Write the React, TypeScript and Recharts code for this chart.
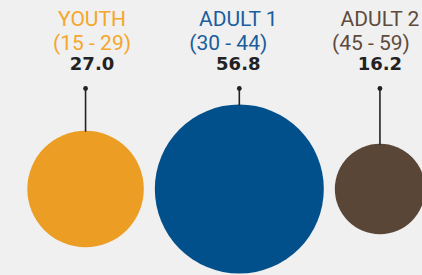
import React from 'react';
import { ScatterChart, Scatter, XAxis, YAxis, ZAxis } from 'recharts';

const categories = ['YOUTH', 'ADULT 1', 'ADULT 2'];
const ageRanges = ['(15 - 29)', '(30 - 44)', '(45 - 59)'];
const values = [27.0, 56.8, 16.2];

const circleColors = ['#EB9E23', '#02508B', '#5A4637'];
const textColors = ['#F5A62B', '#1B5E9E', '#5E4B3C'];
const labelShift = [6.5, -1, 0];
const rangeShift = [6.5, -11, -9];

const W = 422;
const H = 275;
const MAX_R = 84.5;
const MAX_AREA = Math.PI * MAX_R * MAX_R;
const K = MAX_R / Math.sqrt(Math.max(...values));
const START = 27.3;
const GAP = 11;

// pack bubbles side by side (positions derived from values)
const data = (() => {
  let edge = START;
  return values.map((v, i) => {
    const r = K * Math.sqrt(v);
    const x = edge + r;
    edge = x + r + GAP;
    return { name: categories[i], range: ageRanges[i], value: v, x, y: 0, idx: i };
  });
})();

const PIN_Y = 88.5;

const Bubble = (props: any) => {
  const { cx, cy, width, payload } = props;
  const i = payload.idx;
  const r = width / 2;
  const tx = cx + labelShift[i];
  return (
    <g>
      <circle cx={cx} cy={cy} r={r} fill={circleColors[i]} />
      <line x1={cx} y1={PIN_Y} x2={cx} y2={cy - r + 1} stroke="#222" strokeWidth={1.6} />
      <circle cx={cx} cy={PIN_Y} r={2.4} fill="#222" />
      <text x={tx} y={26} textAnchor="middle" fontFamily="Roboto" fontSize={21} fill={textColors[i]}>
        {payload.name}
      </text>
      <text x={cx + rangeShift[i]} y={49.5} textAnchor="middle" fontFamily="Roboto" fontSize={21} fill={textColors[i]}>
        {payload.range}
      </text>
      <text x={tx} y={70} textAnchor="middle" fontFamily="DejaVu Sans" fontWeight="bold" fontSize={18} fill="#222">
        {payload.value.toFixed(1)}
      </text>
    </g>
  );
};

export default function App() {
  return (
    <div style={{ position: 'absolute', left: 0, top: 0, width: W, height: H, background: '#F0F0F0' }}>
      <ScatterChart width={W} height={H} margin={{ top: 103, right: 0, bottom: 0, left: 0 }}>
        <XAxis type="number" dataKey="x" domain={[0, W]} hide />
        <YAxis type="number" dataKey="y" domain={[-1, 1]} hide />
        <ZAxis type="number" dataKey="value" domain={[0, Math.max(...values)]} range={[0, MAX_AREA]} />
        <Scatter data={data} shape={<Bubble />} isAnimationActive={false} />
      </ScatterChart>
    </div>
  );
}
